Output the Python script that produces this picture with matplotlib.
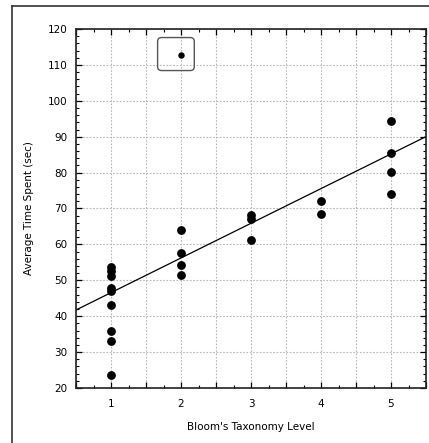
import matplotlib
matplotlib.use("Agg")
import matplotlib.pyplot as plt
import numpy as np
from matplotlib.patches import FancyBboxPatch
from matplotlib.ticker import MultipleLocator, FuncFormatter
from matplotlib.transforms import ScaledTranslation
from matplotlib.lines import Line2D

# ---- data ----
level_1 = [53.7, 52.5, 51.2, 47.9, 46.9, 43.2, 35.9, 33.2, 23.6]
level_2 = [63.9, 57.7, 54.2, 51.6]
level_3 = [68.3, 67.0, 61.3]
level_4 = [72.0, 68.4]
level_5 = [94.5, 85.4, 80.1, 74.0]
levels = [1, 2, 3, 4, 5]
outlier_level = 2
outlier_time = 112.8
fit_intercept = 36.9
fit_slope = 9.66
x_label = "Bloom's Taxonomy Level"
y_label = "Average Time Spent (sec)"

groups = [level_1, level_2, level_3, level_4, level_5]

W, H = 429, 443
fig = plt.figure(figsize=(W / 100, H / 100), dpi=100)
fig.patch.set_facecolor("white")

# outer frame (left and top lines visible)
fig.add_artist(Line2D([12 / W, 12 / W], [0, 1 - 6 / H], color="#333333", lw=1.2,
                      transform=fig.transFigure))
fig.add_artist(Line2D([12 / W, 1], [1 - 6 / H, 1 - 6 / H], color="#333333", lw=1.2,
                      transform=fig.transFigure))

ax = fig.add_axes([76 / W, 1 - 388 / H, (426 - 76) / W, (388 - 29) / H])
ax.set_xlim(0.5, 5.5)
ax.set_ylim(20, 120)

ax.xaxis.set_major_locator(MultipleLocator(0.5))
ax.xaxis.set_minor_locator(MultipleLocator(0.25))
ax.xaxis.set_major_formatter(FuncFormatter(lambda v, p: f"{int(round(v))}" if abs(v - round(v)) < 1e-6 else ""))
ax.yaxis.set_major_locator(MultipleLocator(10))
ax.yaxis.set_minor_locator(MultipleLocator(2))

ax.tick_params(which="both", direction="in", top=True, right=True, colors="black",
               labelsize=7.5)
ax.tick_params(which="major", length=4, width=0.9)
ax.tick_params(which="minor", length=2, width=0.8)
ax.tick_params(axis="x", pad=8)
ax.tick_params(axis="y", pad=6)

ax.grid(True, which="major", color="#b8b8b8", linestyle=(0, (1.5, 1.5)), lw=0.8)
ax.set_axisbelow(True)
for s in ax.spines.values():
    s.set_linewidth(1.2)
    s.set_color("#222222")

# points
for lvl, vals in zip(levels, groups):
    ax.plot([lvl] * len(vals), vals, linestyle="none", marker="o", ms=5.3,
            mfc="black", mec="black", zorder=3)
ax.plot([outlier_level], [outlier_time], linestyle="none", marker="o", ms=3.6,
        mfc="black", mec="black", zorder=3)

# regression line
xs = np.array(ax.get_xlim())
ax.plot(xs, fit_intercept + fit_slope * xs, color="black", lw=0.9, zorder=2)

# rounded box around outlier
trans = fig.dpi_scale_trans + ScaledTranslation(outlier_level, outlier_time, ax.transData)
box = FancyBboxPatch((-0.234, -0.157), 0.367, 0.33,
                     boxstyle="round,pad=0,rounding_size=0.04",
                     transform=trans, fill=False, ec="#555555", lw=1.0, zorder=4)
ax.add_patch(box)

ax.set_xlabel(x_label, fontsize=7.5, labelpad=9)
ax.set_ylabel(y_label, fontsize=7.5, labelpad=10)

fig.savefig("out.png", dpi=100, facecolor="white")
